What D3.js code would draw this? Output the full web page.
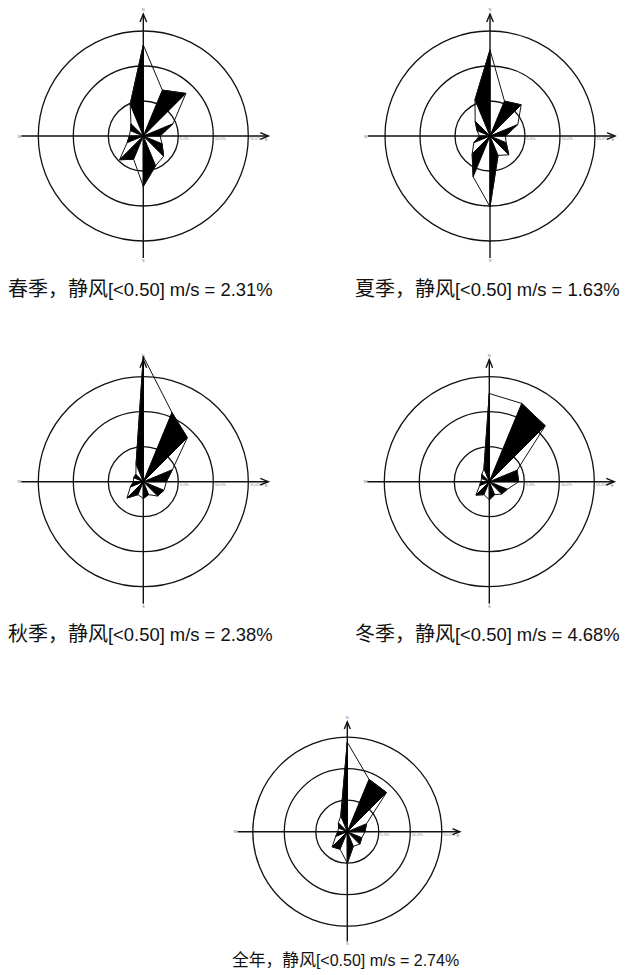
<!DOCTYPE html>
<html>
<head>
<meta charset="utf-8">
<script src="https://cdn.jsdelivr.net/npm/d3@7"></script>
<style>
body { margin: 0; background: #fff; }
</style>
</head>
<body>
<script>
// 16 wind directions, clockwise from N
var dirs = ["N","NNE","NE","ENE","E","ESE","SE","SSE","S","SSW","SW","WSW","W","WNW","NW","NNW"];
// frequency (%) per direction
var spring = [13.0, 7.1, 8.6, 4.6, 2.4, 2.9, 4.1, 4.6, 7.2, 3.6, 4.8, 2.5, 2.0, 2.0, 2.5, 4.9];
var summer = [12.3, 5.4, 6.3, 4.3, 2.2, 2.5, 3.8, 3.0, 10.1, 6.3, 3.6, 2.5, 1.5, 2.0, 3.0, 5.6];
var autumn = [17.9, 10.7, 8.9, 4.5, 3.3, 3.2, 2.9, 2.0, 2.4, 2.0, 3.3, 2.0, 1.4, 1.5, 1.5, 2.7];
var winter = [12.6, 12.1, 11.3, 4.3, 4.2, 2.8, 2.5, 2.0, 2.6, 2.0, 2.7, 1.5, 1.2, 1.2, 1.5, 2.0];
var annual = [14.2, 9.0, 8.8, 3.3, 2.8, 2.5, 2.8, 2.5, 5.0, 3.0, 3.4, 2.0, 1.5, 1.5, 2.0, 2.7];
var seasons = ["春季", "夏季", "秋季", "冬季", "全年"];
var calm = ["2.31%", "1.63%", "2.38%", "4.68%", "2.74%"];
var rings = [5, 10, 15];
var ringLabels = ["5.0%", "10.0%", "15.0%"];

// layout
var W = 625, H = 975,
outer = 105, // px for 15%
font = {cjk: "'Noto Sans CJK SC', sans-serif", latin: "'Liberation Sans', Arial, sans-serif"},
panels = [
    {data: spring, cx: 143.3, cy: 136,   s: 1,   tx: 8,   ty: 296},
    {data: summer, cx: 490,   cy: 136,   s: 1,   tx: 355, ty: 296},
    {data: autumn, cx: 143.3, cy: 481.7, s: 1,   tx: 8,   ty: 641},
    {data: winter, cx: 489.3, cy: 481.7, s: 1,   tx: 355, ty: 641},
    {data: annual, cx: 347.3, cy: 831.7, s: 0.9, tx: 232, ty: 966}
];

var svg = d3.select("body")
    .append("svg")
        .attr("width", W)
        .attr("height", H)
        .style("display", "block");

function drawRose(p, k) {
    var s = p.s, vals = p.data;
    var r = d3.scaleLinear().domain([0, 15]).range([0, outer * s]);
    var a = d3.scaleLinear().domain([0, dirs.length]).range([0, 2 * Math.PI]);
    var ext = 122 * s;

    var g = svg.append("g")
        .attr("transform", "translate(" + p.cx + "," + p.cy + ")");

    // rings
    g.selectAll(".ring")
        .data(rings)
        .enter()
        .append("circle")
            .attr("class", "ring")
            .attr("r", function(d) { return r(d); })
            .attr("fill", "none")
            .attr("stroke", "#111")
            .attr("stroke-width", 1.3);

    // ring labels on the east axis
    g.selectAll(".rlab")
        .data(rings)
        .enter()
        .append("text")
            .attr("class", "rlab")
            .attr("x", function(d) { return r(d) + 1.5; })
            .attr("y", 4)
            .attr("font-family", font.latin)
            .attr("font-size", 4)
            .attr("fill", "#888")
            .text(function(d, i) { return ringLabels[i]; });

    // axes
    var axis = g.append("g")
        .attr("stroke", "#111")
        .attr("stroke-width", 1.4)
        .attr("fill", "none");
    axis.append("line").attr("x1", -ext).attr("y1", 0).attr("x2", ext + 3 * s).attr("y2", 0);
    axis.append("line").attr("x1", 0).attr("y1", ext).attr("x2", 0).attr("y2", -ext);
    axis.append("path").attr("d", d3.line()([[-3.3 * s, -ext + 8 * s], [0, -ext], [3.3 * s, -ext + 8 * s]]));
    axis.append("path").attr("d", d3.line()([[ext + 3 * s - 8 * s, -3.3 * s], [ext + 3 * s, 0], [ext + 3 * s - 8 * s, 3.3 * s]]));

    // tiny compass labels at the axis ends
    var ends = [["N", 0, -ext - 3], ["S", 0, ext + 4], ["W", -ext - 2, 1.5], ["E", ext + 1, 5]];
    g.selectAll(".clab")
        .data(ends)
        .enter()
        .append("text")
            .attr("class", "clab")
            .attr("x", function(d) { return d[1]; })
            .attr("y", function(d) { return d[2]; })
            .attr("text-anchor", "middle")
            .attr("font-family", font.latin)
            .attr("font-size", 4)
            .attr("fill", "#777")
            .text(function(d) { return d[0]; });

    // rose: point of direction i
    function pt(i) {
        return [r(vals[i]) * Math.sin(a(i)), -r(vals[i]) * Math.cos(a(i))];
    }
    // black sectors: between the previous (ccw) direction and each main direction
    var tri = d3.range(0, dirs.length, 2).map(function(i) {
        return [(i + dirs.length - 1) % dirs.length, i];
    });
    g.selectAll(".petal")
        .data(tri)
        .enter()
        .append("path")
            .attr("class", "petal")
            .attr("d", function(d) { return d3.line()([[0, 0], pt(d[0]), pt(d[1])]) + "Z"; })
            .attr("fill", "#000")
            .attr("stroke", "#000")
            .attr("stroke-width", 1)
            .attr("stroke-linejoin", "round");

    // frequency outline
    g.append("path")
        .attr("d", d3.lineRadial()
            .angle(function(d, i) { return a(i); })
            .radius(function(d) { return r(d); })
            .curve(d3.curveLinearClosed)(vals))
        .attr("fill", "none")
        .attr("stroke", "#111")
        .attr("stroke-width", 1);

    // caption
    var t = svg.append("text")
        .attr("x", p.tx)
        .attr("y", p.ty)
        .attr("fill", "#111");
    t.append("tspan")
        .attr("font-family", font.cjk)
        .attr("font-size", 20 * (s < 1 ? 0.84 : 1))
        .text(seasons[k] + "，静风");
    t.append("tspan")
        .attr("font-family", font.latin)
        .attr("font-size", s < 1 ? 16 : 18.4)
        .text("[<0.50] m/s = " + calm[k]);
}

panels.forEach(drawRose);
</script>
</body>
</html>
